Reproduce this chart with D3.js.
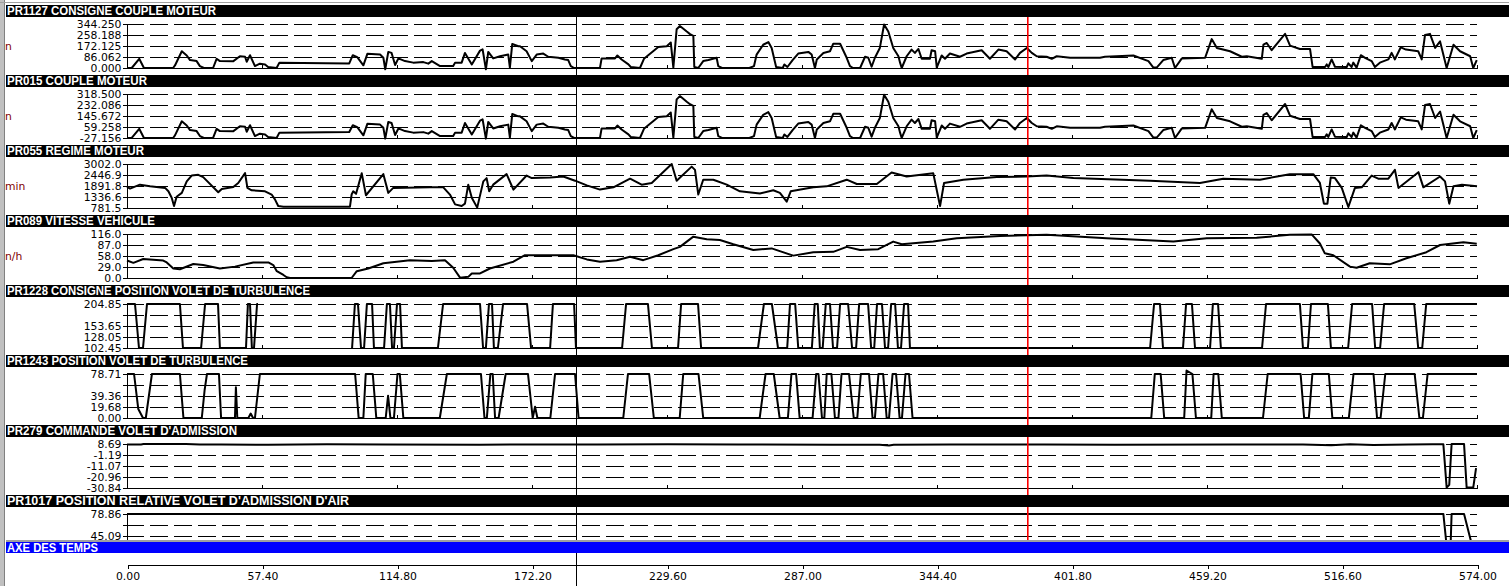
<!DOCTYPE html>
<html><head><meta charset="utf-8">
<script src="https://cdn.jsdelivr.net/npm/d3@7/dist/d3.min.js"></script>
<style>
html,body{margin:0;padding:0;background:#fff;overflow:hidden;}
svg{display:block;}
</style></head><body>
<svg id="c" width="1509" height="586"></svg>
<script>
// ---------------- DATA ----------------
const titles = ["PR1127  CONSIGNE COUPLE MOTEUR","PR015  COUPLE MOTEUR","PR055  REGIME MOTEUR","PR089  VITESSE VEHICULE",
  "PR1228  CONSIGNE POSITION VOLET DE TURBULENCE","PR1243  POSITION VOLET DE TURBULENCE","PR279  COMMANDE VOLET D'ADMISSION",
  "PR1017  POSITION RELATIVE VOLET D'ADMISSION D'AIR"];
const units = ["n","n","min","n/h","","","",""];
const yMin = [0,-27.156,781.5,0,102.45,0,-30.84,11.32];
const yMax = [344.25,318.5,3002.0,116.0,204.85,78.71,8.69,78.86];
const yLabels = [
  ["0.000","86.062","172.125","258.188","344.250"],
  ["-27.156","59.258","145.672","232.086","318.500"],
  ["781.5","1336.6","1891.8","2446.9","3002.0"],
  ["0.0","29.0","58.0","87.0","116.0"],
  ["102.45","128.05","153.65","","204.85"],
  ["0.00","19.68","39.36","","78.71"],
  ["-30.84","-20.96","-11.07","-1.19","8.69"],
  ["","","45.09","","78.86"]
];
const timeTicks = [0,57.4,114.8,172.2,229.6,287.0,344.4,401.8,459.2,516.6,574.0];
const timeAxisTitle = "AXE DES TEMPS";
const cursorBlackT = 190.9, cursorRedT = 382.7;

const tCouple = [0,2.0,5.2,7.2,19.6,20.4,23.3,25.4,26.8,29.6,
31.0,32.7,36.6,38.1,39.5,45.1,48.0,50.2,50.9,52.3,
54.4,56.5,58.7,60.0,63.6,64.8,94.5,96.0,97.9,100.5,
102.2,107.6,109.0,109.8,111.1,112.5,114.0,115.4,118.2,121.7,
126.0,128.1,129.6,133.1,138.7,139.5,142.3,143.7,146.6,150.1,
151.2,152.6,153.6,155.7,158.6,162.1,162.8,163.8,166.4,167.1,
169.9,172.1,174.2,177.0,179.1,183.4,186.2,187.6,188.7,190.1,
201.1,201.8,207.5,208.5,210.3,213.2,214.2,218.1,219.8,225.9,
229.5,231.2,232.3,233.7,235.1,238.0,239.4,240.8,241.2,242.9,
245.0,247.2,250.7,251.4,253.0,264.6,266.6,267.7,270.5,272.7,
274.1,276.0,278.8,279.5,280.8,283.0,285.4,289.7,291.1,292.5,
293.3,296.1,298.9,300.3,303.2,306.0,307.4,308.7,311.7,313.8,
315.2,316.6,318.0,320.1,321.9,323.7,325.8,328.0,328.7,329.4,
331.5,333.6,335.0,336.5,337.9,341.4,342.1,343.6,344.3,346.4,
347.8,349.9,354.2,357.0,363.4,366.9,370.5,374.0,377.6,379.7,
382.6,384.7,386.8,391.0,393.2,395.3,401.0,413.7,415.8,427.9,
434.3,436.4,437.8,440.6,444.2,445.6,448.5,458.4,461.2,463.4,
469.0,474.0,476.1,482.5,483.2,484.6,486.7,492.4,494.5,498.7,
503.0,504.1,509.4,510.1,510.8,512.2,513.6,518.6,519.3,520.7,
521.4,522.8,524.6,526.4,529.2,530.6,532.7,536.3,537.7,539.1,
541.6,543.8,549.0,550.5,551.9,554.0,556.2,558.3,561.1,564.0,
566.8,571.1,572.4,573.9];
const consigneCouple = [0,0,72,0,0,20,131,98,62,54,
15,0,0,72,54,52,92,88,49,100,
15,34,28,8,0,42,36,100,85,21,
111,105,80,-10,126,118,23,75,54,42,
46,34,54,15,15,42,42,118,28,136,
146,-10,126,75,92,105,3,188,170,170,
131,54,105,113,88,80,67,62,15,0,
0,75,75,98,67,28,8,0,72,165,
170,200,3,303,329,285,265,252,8,0,
54,62,80,15,0,0,15,105,182,203,
157,8,0,28,8,62,113,126,105,0,
67,118,131,190,190,80,15,0,0,88,
80,10,80,157,340,285,157,92,42,0,
92,144,118,149,72,72,139,131,3,98,
72,113,88,113,139,72,144,131,67,118,
157,118,92,88,72,92,80,80,88,98,
54,3,3,62,80,0,75,80,226,157,
131,88,92,72,182,196,139,267,175,149,
149,8,8,28,8,67,10,8,36,8,
42,3,100,80,54,8,42,67,118,67,
162,144,131,67,259,267,157,208,0,182,
131,92,0,62];
const coupleMoteur = [-27,-27,45,-27,-27,-7,104,71,35,27,
-12,-27,-27,45,27,25,65,61,22,73,
-12,7,1,-19,-27,15,20,73,58,-6,
84,78,53,-32,99,91,-4,48,27,15,
19,7,27,-12,-12,15,15,91,1,109,
119,-32,99,48,65,78,-24,161,143,143,
104,27,78,86,61,53,40,35,-12,-27,
-27,48,48,71,40,1,-19,-27,45,138,
143,173,-24,276,302,258,238,225,-19,-27,
27,35,53,-12,-27,-27,-12,78,155,176,
130,-19,-27,1,-19,35,86,99,78,-27,
40,91,104,163,163,53,-12,-27,-27,61,
53,-17,53,130,313,258,130,65,15,-27,
65,117,91,122,45,45,112,104,-24,71,
45,86,61,86,112,45,117,104,40,91,
130,91,65,61,45,65,53,53,61,71,
27,-24,-24,35,53,-27,48,53,199,130,
104,61,65,45,155,169,112,240,148,122,
122,-19,-19,1,-19,40,-17,-19,9,-19,
15,-24,73,53,27,-19,15,40,91,40,
135,117,104,40,232,240,130,181,-27,155,
104,65,-27,35];

const tRegime = [0,1.3,5.5,9.8,16.2,17.6,19.0,20.0,21.1,23.3,
25.4,27.5,30.3,32.4,38.8,40.3,45.2,47.3,50.2,51.2,
53.0,58.7,61.5,62.9,64.3,66.5,94.8,95.5,96.2,97.4,
99.8,101.6,109.0,111.1,113.2,128.8,134.5,137.3,139.5,142.3,
143.7,145.1,146.6,148.9,151.5,152.9,154.0,155.7,161.4,164.3,
169.9,172.1,179.9,185.5,190.5,195.5,201.1,206.8,213.9,218.8,
223.1,231.6,233.7,240.1,241.5,242.9,245.0,249.3,255.0,260.6,
269.1,274.8,277.6,280.5,282.2,291.8,297.5,306.0,310.3,318.8,
325.1,331.5,342.8,345.7,347.4,355.6,369.8,382.5,391.0,402.4,
435.0,456.2,466.1,481.7,494.4,504.4,507.2,508.9,510.4,511.8,
513.6,516.5,519.3,522.1,525.0,529.2,532.0,536.3,539.1,540.6,
549.1,551.2,558.3,560.4,562.2,564.0,567.6,574];
const regime = [1845,1760,1960,1875,1795,1625,1300,880,1350,1545,
2125,2420,2455,2340,1575,1745,1845,2045,2540,1795,
1675,1625,1460,1215,880,850,850,1460,1625,1495,
2540,1425,2490,1545,1795,1825,1825,1460,965,880,
1000,1960,1300,800,2125,2290,1625,1960,2490,1710,
2420,2290,2320,2370,2160,1925,1710,1825,2260,1960,
2045,3000,2160,2870,2705,1460,2210,2210,1960,1625,
1510,1675,1545,1100,1625,1825,1875,2210,1995,1995,
2570,2370,2540,880,2045,2210,2340,2370,2420,2290,
2160,2045,2260,2210,2490,2490,2045,1000,1000,2320,
2290,1795,830,1795,1825,2420,2260,2260,2705,1795,
2590,1825,2370,2125,1000,1875,1960,1875];

const tVitesse = [0,2.7,6.9,15.4,16.9,19.7,22.5,28.2,32.4,39.5,
45.9,53.7,60.1,62.2,63.7,66.5,67.9,69.3,95.5,97.7,
102.6,109.0,120.3,129.6,135.2,138.7,141.6,145.1,146.6,150.1,
154.3,164.3,169.2,189.8,195.5,201.1,208.2,213.9,219.5,225.9,
232.3,235.1,240.8,246.5,252.1,257.8,266.3,274.1,283.3,291.8,
300.3,306.0,311.7,319.4,325.8,329.4,342.8,352.8,371.2,382.5,
391.0,416.5,444.9,459.1,480.3,494.4,503.7,507.2,509.3,512.9,
520.0,522.8,528.4,536.9,544.0,552.5,558.3,568.2,573.9];
const vitesse = [46,40,50,46,41,25,23,37,34,25,
30,41,41,34,18,8,2,0,0,18,
25,39,47,45,47,27,1,3,12,12,
25,43,60,60,49,43,47,56,47,60,
76,82,109,102,100,89,74,78,59,68,
69,82,74,76,96,89,96,105,111,113,
114,105,96,105,106,114,115,91,65,60,
30,27,39,36,52,68,87,94,90];

// [time, value] pairs; null = no data
const consigneVolet = [[0,204.85],[3.4,204.85],[5.1,102.45],[6.8,102.45],[8.5,204.85],[22.5,204.85],[23.8,102.45],[31.5,102.45],
[33.2,204.85],[38.7,204.85],[39.5,102.45],[50.6,102.45],[51.4,204.85],[52.3,204.85],[53.1,102.45],[54.0,102.45],[55.3,204.85],[55.7,204.85],[56.0,null],
[95.7,102.45],[96.9,204.85],[98.2,204.85],[99.5,102.45],[100.8,102.45],[102.0,204.85],[104.2,204.85],[105.0,102.45],[109.3,102.45],
[110.5,204.85],[111.8,204.85],[112.7,102.45],[113.5,102.45],[114.8,204.85],[116.1,204.85],[116.9,102.45],
[132.2,102.45],[134.4,204.85],[150.1,204.85],[151.4,102.45],[152.6,102.45],[153.9,204.85],[155.2,204.85],[156.0,102.45],
[157.7,102.45],[159.9,204.85],[170.1,204.85],[171.8,102.45],[179.9,102.45],[181.1,204.85],[190.1,204.85],[190.9,102.45],
[210.5,102.45],[212.2,204.85],[221.5,204.85],[223.2,102.45],[234.3,102.45],[235.6,204.85],[242.8,204.85],[244.1,102.45],
[268.3,102.45],[270.8,204.85],[274.2,204.85],[276.8,102.45],[280.7,102.45],[281.9,204.85],[284.1,204.85],[285.4,102.45],
[291.2,102.45],[292.4,204.85],[293.7,204.85],[294.6,102.45],[295.8,102.45],[297.1,204.85],[298.9,204.85],[300.2,102.45],
[301.9,102.45],[303.2,204.85],[306.6,204.85],[308.3,102.45],[310.0,102.45],[311.3,204.85],[315.1,204.85],[316.4,102.45],
[317.7,102.45],[318.9,204.85],[321.0,204.85],[322.3,102.45],[323.6,102.45],[324.9,204.85],[326.6,204.85],[327.8,102.45],
[329.1,102.45],[330.4,204.85],[332.1,204.85],[332.9,102.45],
[435.0,102.45],[436.7,204.85],[439.2,204.85],[440.5,102.45],[449.0,102.45],[450.3,204.85],[452.8,204.85],[454.1,102.45],
[460.5,102.45],[461.7,204.85],[463.9,204.85],[465.1,102.45],[482.6,102.45],[484.3,204.85],[498.7,204.85],[500.0,102.45],
[502.1,102.45],[503.4,204.85],[510.6,204.85],[511.9,102.45],[519.2,102.45],[520.9,204.85],[529.4,204.85],[530.7,102.45],
[532.8,102.45],[534.5,204.85],[547.3,204.85],[549.0,102.45],[550.7,102.45],[552.4,204.85],[574,204.85]];

const positionVolet = [[0,78.71],[3.0,78.71],[4.8,16],[6.8,0],[8.0,0],[10.6,78.71],[22.5,78.71],[24.0,0],[31.8,0],[33.0,50],[34.0,78.71],
[39.1,78.71],[40.0,0],[45.9,0],[46.3,55],[46.9,0],[51.6,0],[52.6,8],[53.6,0],[54.4,0],[56.5,78.71],
[97.0,78.71],[98.5,0],[100.5,0],[101.5,78.71],[104.5,78.71],[106,0],[110,0],[111,40],[112,0],[113.5,0],[115,78.71],[116,78.71],[117.5,0],
[133,0],[136,78.71],[150.5,78.71],[152,0],[153,0],[154.5,78.71],[155.5,78.71],[156.5,0],[158,0],[161,78.71],[170.5,78.71],[172.5,0],[173.5,20],[174.5,0],
[180,0],[182,78.71],[190.5,78.71],[192,0],[211,0],[213,78.71],[222,78.71],[224,0],[235,0],[236.5,78.71],[243,78.71],[245,0],
[269,0],[271.5,78.71],[275,78.71],[277.5,0],[281,0],[282.5,78.71],[284.5,78.71],[286,0],[291.5,0],[293,78.71],[294,78.71],[295.5,0],
[296.5,0],[297.5,78.71],[299.5,78.71],[301,0],[302.5,0],[303.8,78.71],[307,78.71],[309,0],[310.5,0],[312,78.71],[315.5,78.71],[317,0],
[318,0],[319.5,78.71],[321.5,78.71],[323,0],[324,0],[325.5,78.71],[327,78.71],[328.5,0],[329.5,0],[331,78.71],[332.5,78.71],[334,0],
[435.5,0],[437,78.71],[439.5,78.71],[441,0],[449.5,0],[450.5,85],[453,78.71],[454.5,0],[461,0],[462,78.71],[464,78.71],[465.5,0],
[483,0],[485,78.71],[499,78.71],[500.5,0],[502.5,0],[504,78.71],[511,78.71],[512.5,0],[519.5,0],[521.5,78.71],[530,78.71],[531.5,0],
[533,0],[535,78.71],[547.5,78.71],[549.5,0],[551,0],[553,78.71],[574,78.71]];

const commandeAdmission = [[0,8.2],[6,8.3],[7,8.6],[25,8.6],[31,8.3],[40,8.3],[60,8.0],[85,8.4],[110,8.3],[150,8.1],[180,8.3],
[200,8.2],[230,8.4],[260,8.2],[300,8.1],[320,8.0],[324,7.4],[326,8.0],[350,8.2],[390,8.3],[420,8.1],[470,8.2],[500,8.3],
[512,7.6],[520,8.4],[530,7.8],[545,8.3],[555,8.4],[559.7,8.4],[561.1,-30.5],[562.2,-28],[563.2,8.6],[568.5,8.6],
[569.6,-30.5],[572.4,-30.5],[573.6,-13]];

const positionAdmission = [[0,79.0],[100,79.0],[200,79.0],[300,79.0],[400,79.0],[500,79.0],[559.7,79.0],[561.6,12],[562.6,12],
[563.2,79.0],[568.5,79.0],[573.2,12],[574,12]];

// ---------------- LAYOUT ----------------
const svg = d3.select("#c");
const W = 1509, X0 = 127, X1 = 1477;
const x = d3.scaleLinear().domain([0,574]).range([X0,X1]);
const titleLen = [209,140,137,148,303,241,230,342];
const FONT = "'DejaVu Sans',Verdana,sans-serif";
const TFONT = "'Liberation Sans',Arial,sans-serif";

const series = [
  d3.zip(tCouple, consigneCouple),
  d3.zip(tCouple, coupleMoteur),
  d3.zip(tRegime, regime),
  d3.zip(tVitesse, vitesse),
  consigneVolet, positionVolet, commandeAdmission, positionAdmission
];

svg.append("rect").attr("x",0).attr("y",0).attr("width",W).attr("height",586).attr("fill","#fff");

const plotLayer = svg.append("g");
const cursorLayer = svg.append("g");
const barLayer = svg.append("g");

titles.forEach((title,i)=>{
  const top = 24 + 70*i, bot = 68 + 70*i;
  const y = d3.scaleLinear().domain([yMin[i], yMax[i]]).range([bot, top]);
  const g = plotLayer.append("g");
  const clipBottom = i===7 ? 540 : bot+7;
  const cid = "clip"+i;
  svg.append("clipPath").attr("id",cid).append("rect")
     .attr("x",X0-2).attr("y",top-6).attr("width",X1-X0+4).attr("height",clipBottom-(top-6));
  const clipA = "clipA"+i;
  svg.append("clipPath").attr("id",clipA).append("rect")
     .attr("x",0).attr("y",top-7).attr("width",W).attr("height",clipBottom-(top-7));
  const gc = g.append("g").attr("clip-path",`url(#${cid})`);
  const ga = g.append("g").attr("clip-path",`url(#${clipA})`);
  const tv = d3.range(5).map(k=> yMin[i] + k*(yMax[i]-yMin[i])/4);
  tv.slice(1).forEach(v=>{
    gc.append("line").attr("x1",126).attr("x2",X1).attr("y1",Math.round(y(v))+0.5).attr("y2",Math.round(y(v))+0.5)
      .attr("stroke","#000").attr("stroke-width",1).attr("stroke-dasharray","18,6").attr("shape-rendering","crispEdges");
  });
  gc.append("line").attr("x1",126).attr("x2",X1+0.5).attr("y1",Math.round(bot)+0.5).attr("y2",Math.round(bot)+0.5)
    .attr("stroke","#000").attr("shape-rendering","crispEdges");
  timeTicks.forEach(t=>{
    gc.append("line").attr("x1",Math.round(x(t))+0.5).attr("x2",Math.round(x(t))+0.5)
      .attr("y1",bot-3).attr("y2",bot).attr("stroke","#000").attr("shape-rendering","crispEdges");
  });
  const ax = d3.axisLeft(y).tickValues(tv).tickFormat((d,k)=>yLabels[i][k]).tickSize(4).tickSizeOuter(0).tickPadding(1);
  const ag = ga.append("g").attr("transform","translate(126.5,0)").call(ax);
  ag.select(".domain").attr("stroke","#000").attr("shape-rendering","crispEdges");
  ag.selectAll(".tick line").attr("stroke","#000").attr("shape-rendering","crispEdges");
  ag.selectAll(".tick text").attr("font-family",FONT).attr("font-size","10.8px").attr("fill","#000").attr("dy","0.36em");
  ag.selectAll(".tick text").filter(function(){return this.textContent==="";}).remove();
  const line = d3.line().defined(d=>d[1]!==null).x(d=>x(d[0])).y(d=>y(d[1]));
  gc.append("path").datum(series[i]).attr("d",line).attr("fill","none").attr("stroke","#000")
    .attr("stroke-width",2).attr("stroke-linejoin","round");
  if(units[i]){
    g.append("text").attr("x",5).attr("y",top+26).attr("font-family",FONT).attr("font-size","10.8px")
      .attr("fill","#800000").text(units[i]);
  }
  barLayer.append("rect").attr("x",6).attr("y",5+70*i).attr("width",W-6).attr("height",12).attr("fill","#000");
  barLayer.append("text").attr("x",7).attr("y",15+70*i).attr("fill","#fff").attr("font-family",TFONT)
    .attr("font-weight","bold").attr("font-size","12px").attr("textLength",titleLen[i]).attr("lengthAdjust","spacingAndGlyphs").text(title);
});

// cursors (drawn as thin rects so colours stay solid)
const xb = Math.round(x(cursorBlackT)), xr = Math.round(x(cursorRedT));
cursorLayer.append("rect").attr("x",xb).attr("width",1).attr("y",17).attr("height",586-17).attr("fill","#000");
cursorLayer.append("rect").attr("x",xr).attr("width",1.6).attr("y",17).attr("height",540-17).attr("fill","#ff0000");

// time axis band
barLayer.append("rect").attr("x",6).attr("y",540).attr("width",W-6).attr("height",2).attr("fill","#a0a0a0");
barLayer.append("rect").attr("x",6).attr("y",542).attr("width",W-6).attr("height",11).attr("fill","#0000ff");
barLayer.append("text").attr("x",7).attr("y",551.5).attr("fill","#fff").attr("font-family",TFONT)
  .attr("font-weight","bold").attr("font-size","12px").attr("textLength",91).attr("lengthAdjust","spacingAndGlyphs").text(timeAxisTitle);
const xa = d3.axisBottom(x).tickValues(timeTicks).tickFormat(d=>d.toFixed(2)).tickSize(4).tickSizeOuter(0).tickPadding(4);
const xg = svg.append("g").attr("transform","translate(0.5,564.5)").call(xa);
xg.select(".domain").attr("stroke","#000").attr("shape-rendering","crispEdges");
xg.selectAll(".tick line").attr("stroke","#000").attr("shape-rendering","crispEdges");
xg.selectAll(".tick text").attr("font-family",FONT).attr("font-size","10.8px").attr("fill","#000");

// window borders
svg.append("rect").attr("x",0).attr("y",0).attr("width",5).attr("height",586).attr("fill","#c0c0c0");
svg.append("line").attr("x1",4.5).attr("x2",4.5).attr("y1",0).attr("y2",586).attr("stroke","#808080");
svg.append("line").attr("x1",0).attr("x2",W).attr("y1",2.5).attr("y2",2.5).attr("stroke","#a0a0a0");
</script></body></html>
